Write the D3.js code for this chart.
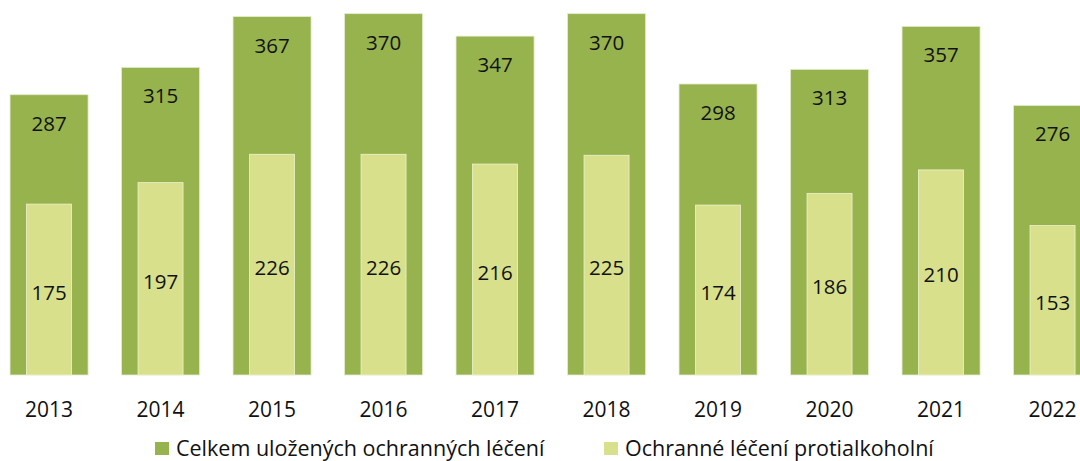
<!DOCTYPE html>
<html>
<head>
<meta charset="utf-8">
<script src="https://cdn.jsdelivr.net/npm/d3@7"></script>
<style>
  html, body { margin: 0; padding: 0; background: #fff; }
  svg { display: block; font-family: "Open Sans", "Noto Sans", sans-serif; }
</style>
</head>
<body>
<div id="chart"></div>
<script>
// chart data
const years = ['2013', '2014', '2015', '2016', '2017', '2018', '2019', '2020', '2021', '2022'];
const totalValues = [287, 315, 367, 370, 347, 370, 298, 313, 357, 276];
const alcoholValues = [175, 197, 226, 226, 216, 225, 174, 186, 210, 153];
const seriesNames = ['Celkem uložených ochranných léčení', 'Ochranné léčení protialkoholní'];

const width = 1080;
const height = 461;
const colors = { total: '#97b34e', alcohol: '#d8e08c' };

const svg = d3.select('#chart')
  .append('svg')
  .attr('width', width)
  .attr('height', height);

// scales
const x = d3.scaleBand()
  .domain(years)
  .range([-6.7, 1108.3])
  .paddingInner(0.3)
  .paddingOuter(0.15);

const y = d3.scaleLinear()
  .domain([0, 384])
  .range([375, 0]);

const innerW = 45;
const innerOff = (x.bandwidth() - innerW) / 2;

// outer bars (total)
svg.selectAll('.bar-total')
  .data(years)
  .enter()
  .append('rect')
  .attr('class', 'bar-total')
  .attr('x', d => x(d))
  .attr('y', (d, i) => y(totalValues[i]))
  .attr('width', x.bandwidth())
  .attr('height', (d, i) => y(0) - y(totalValues[i]))
  .attr('fill', colors.total)
  .attr('stroke', '#e4ebcf')
  .attr('stroke-width', 0.8);

// inner bars (alcohol)
svg.selectAll('.bar-alcohol')
  .data(years)
  .enter()
  .append('rect')
  .attr('class', 'bar-alcohol')
  .attr('x', d => x(d) + innerOff)
  .attr('y', (d, i) => y(alcoholValues[i]))
  .attr('width', innerW)
  .attr('height', (d, i) => y(0) - y(alcoholValues[i]))
  .attr('fill', colors.alcohol)
  .attr('stroke', '#eef2cf')
  .attr('stroke-width', 0.8);

// value labels
svg.selectAll('.label-total')
  .data(years)
  .enter()
  .append('text')
  .attr('class', 'label-total')
  .attr('x', d => x(d) + x.bandwidth() / 2)
  .attr('y', (d, i) => y(totalValues[i]) + 36)
  .attr('text-anchor', 'middle')
  .attr('font-size', 20.5)
  .attr('fill', '#111')
  .text((d, i) => totalValues[i]);

svg.selectAll('.label-alcohol')
  .data(years)
  .enter()
  .append('text')
  .attr('class', 'label-alcohol')
  .attr('x', d => x(d) + x.bandwidth() / 2)
  .attr('y', (d, i) => (y(alcoholValues[i]) + y(0)) / 2 + 10)
  .attr('text-anchor', 'middle')
  .attr('font-size', 20.5)
  .attr('fill', '#111')
  .text((d, i) => alcoholValues[i]);

// x axis (no line, no ticks)
const xAxis = svg.append('g')
  .attr('transform', 'translate(0, 375)')
  .call(d3.axisBottom(x).tickSize(0).tickPadding(27));
xAxis.select('.domain').remove();
xAxis.selectAll('text')
  .attr('font-size', 21)
  .attr('font-family', '"Open Sans", "Noto Sans", sans-serif')
  .attr('fill', '#111');

// legend
const legendItems = [
  { name: seriesNames[0], color: colors.total, x: 155 },
  { name: seriesNames[1], color: colors.alcohol, x: 604 }
];
const legend = svg.selectAll('.legend')
  .data(legendItems)
  .enter()
  .append('g')
  .attr('class', 'legend')
  .attr('transform', d => `translate(${d.x}, 442)`);

legend.append('rect')
  .attr('width', 14)
  .attr('height', 13)
  .attr('fill', d => d.color);

legend.append('text')
  .attr('x', 21)
  .attr('y', 14)
  .attr('font-size', 21.5)
  .attr('fill', '#111')
  .text(d => d.name);
</script>
</body>
</html>
